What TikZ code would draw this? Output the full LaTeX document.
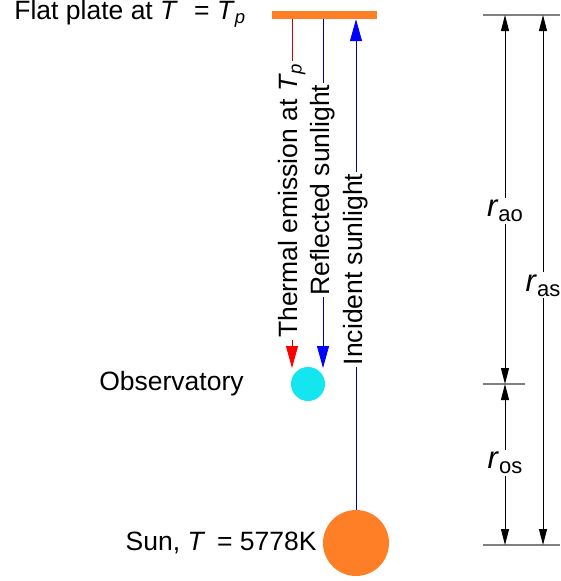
\documentclass[tikz,border=0pt]{standalone}
\usepackage{fontspec}
\setmainfont{Liberation Sans}
\usepackage{tikz}
\usetikzlibrary{positioning,arrows.meta,calc}
\definecolor{sunorange}{RGB}{255,127,39}
\definecolor{obscyan}{RGB}{20,230,240}
\newcommand{\rsub}[1]{\textit{r}{\fontsize{22}{26}\selectfont\raisebox{-5pt}{#1}}}
\tikzset{
  lbl/.style={font=\fontsize{26.5}{31}\selectfont,inner sep=1pt},
  ray/.style={-{Triangle[length=22pt,width=12pt,color=#1,fill=#1]},line width=0.9pt},
  raylbl/.style={lbl,rotate=90,fill=white,text=black,inner sep=2pt},
  dimarr/.style={{Triangle[length=16pt,width=8pt]}-{Triangle[length=16pt,width=8pt]},line width=1pt},
  dimlbl/.style={font=\fontsize{31}{36}\selectfont,fill=white,inner sep=2pt},
  tick/.style={gray,line width=2pt},
}

\begin{document}
\begin{tikzpicture}[x=1pt,y=-1pt,node distance=4pt]
  \useasboundingbox (0,0) rectangle (561,581);
  % plate, observatory and sun
  \node[draw=none,fill=sunorange,minimum width=105pt,minimum height=8pt,inner sep=0pt]
    (plate) at (324.5,15) {};
  \node[circle,fill=obscyan,minimum size=34pt,inner sep=0pt] (obs) at (308,384) {};
  \node[circle,fill=sunorange,minimum size=66pt,inner sep=0pt] (sun) at (356,543) {};
  \node[lbl,left=25pt of plate,yshift=1pt] (platetxt)
    {Flat plate at \textit{T}\,\, = \textit{T}\textsubscript{\textit{p}}};
  \node[lbl,left=46pt of obs] (obstxt) {Observatory};
  \node[lbl,left=5pt of sun] (suntxt) {Sun, \textit{T}\, = 5778K};
  % rays
  \coordinate (the) at (292,368);
  \coordinate (ref) at (323,368);
  \draw[ray=red,red!80!black] (the |- plate.south) -- (the)
    node[raylbl,pos=0.52] {Thermal emission at \textit{T}\textsubscript{\textit{p}}};
  \draw[ray=blue,blue!70!black] (ref |- plate.south) -- (ref)
    node[raylbl,pos=0.49] {Reflected sunlight};
  \draw[ray=blue,blue!70!black] (sun.north) -- (sun.north |- plate.south)
    node[raylbl,pos=0.49] {Incident sunlight};
  % distances
  \coordinate (ta) at (483,15);  \coordinate (tb) at (560,15);
  \coordinate (oa) at (483,384); \coordinate (ob) at (525,384);
  \coordinate (sa) at (483,545); \coordinate (sb) at (560,545);
  \coordinate (d1) at (505,0);   \coordinate (d2) at (543,0);
  \draw[tick] (ta) -- (tb);
  \draw[tick] (oa) -- (ob);
  \draw[tick] (sa) -- (sb);
  \draw[dimarr] (d1 |- ta) -- (d1 |- oa)
    node[dimlbl,pos=0.53] {\rsub{ao}};
  \draw[dimarr] (d1 |- oa) -- (d1 |- sa)
    node[dimlbl,pos=0.49] {\rsub{os}};
  \draw[dimarr] (d2 |- ta) -- (d2 |- sa)
    node[dimlbl,pos=0.51] {\rsub{as}};
\end{tikzpicture}
\end{document}
